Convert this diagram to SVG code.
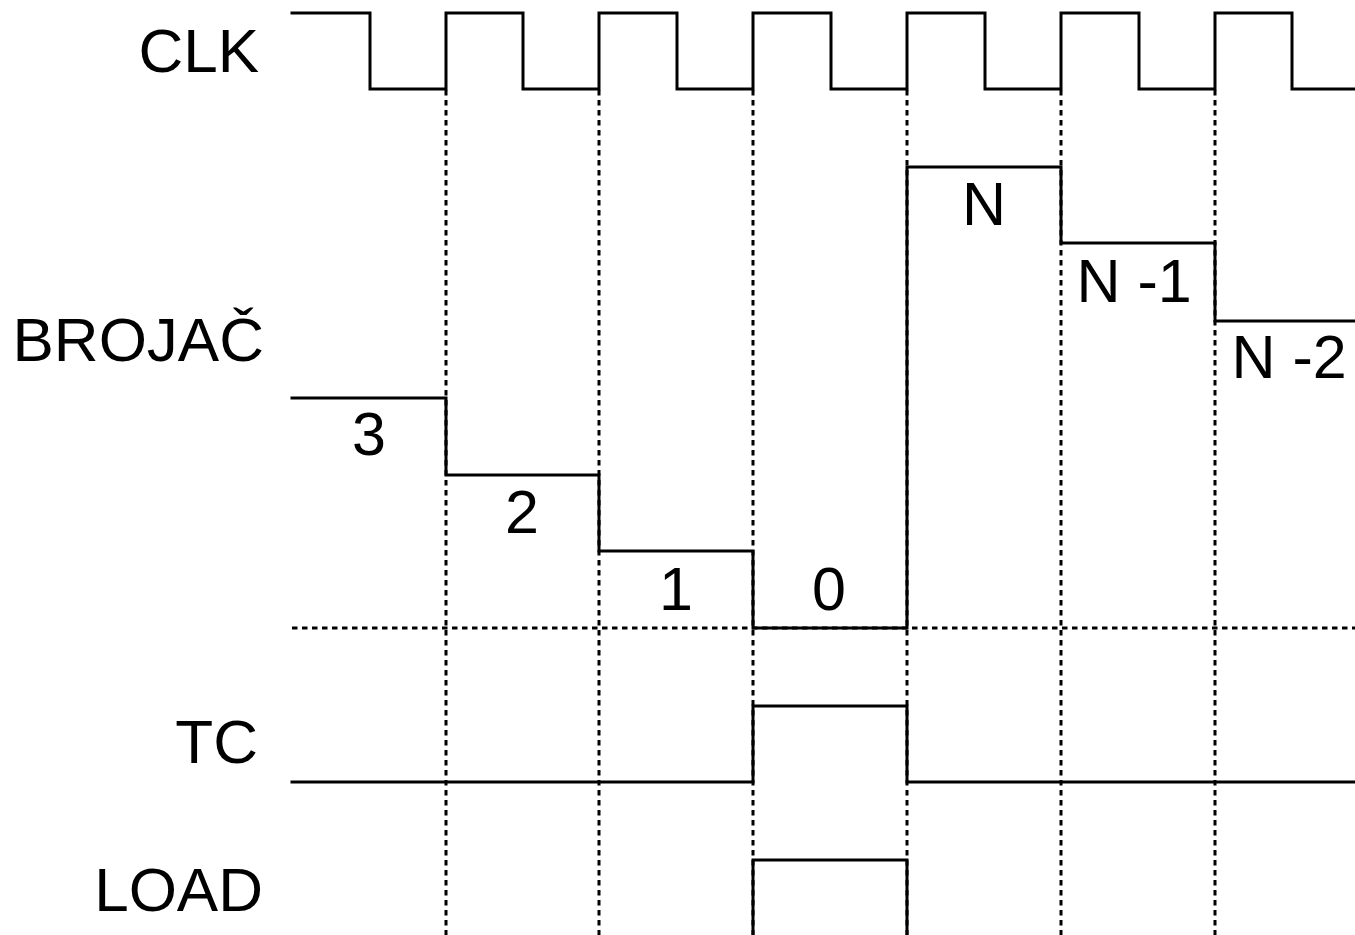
<svg xmlns="http://www.w3.org/2000/svg" width="1355" height="935" viewBox="0 0 1355 935">
<style>
.sig{fill:none;stroke:#000;stroke-width:3;stroke-linejoin:miter;stroke-linecap:square}
.grid{fill:none;stroke:#000;stroke-width:3;stroke-dasharray:5.5 4.5}
.lbl{font-family:"Liberation Sans",Arial,sans-serif;font-size:62px;fill:#000;text-anchor:end}
.val{font-family:"Liberation Sans",Arial,sans-serif;font-size:61px;fill:#000;text-anchor:middle}
</style>
<rect width="1355" height="935" fill="#fff"/>
<g id="connectors">
<g id="grid">
<line class="grid" x1="446" y1="90" x2="446" y2="935"/>
<line class="grid" x1="599" y1="90" x2="599" y2="935"/>
<line class="grid" x1="753" y1="90" x2="753" y2="935"/>
<line class="grid" x1="907" y1="90" x2="907" y2="935"/>
<line class="grid" x1="1061" y1="90" x2="1061" y2="935"/>
<line class="grid" x1="1215" y1="90" x2="1215" y2="935"/>
<line class="grid" x1="292" y1="628" x2="1355" y2="628"/>
</g>
</g>
<g id="clk">
<path class="sig" d="M292,13 H370 V89 H446 V13 H523 V89 H599 V13 H677 V89 H753 V13 H831 V89 H907 V13 H985 V89 H1061 V13 H1139 V89 H1215 V13 H1292 V89 H1355"/>
<text class="lbl" x="259" y="72">CLK</text>
</g>
<g id="brojac">
<path class="sig" d="M292,398 H446 V475 H599 V551 H753 V628 H907 V167 H1061 V243 H1215 V321 H1355"/>
<text class="lbl" x="264" y="361">BROJAČ</text>
<text class="val" x="369" y="455">3</text>
<text class="val" x="522" y="533">2</text>
<text class="val" x="676" y="610">1</text>
<text class="val" x="829" y="610">0</text>
<text class="val" x="984" y="225">N</text>
<text class="val" x="1134" y="302">N -1</text>
<text class="val" x="1289" y="378">N -2</text>
</g>
<g id="tc">
<path class="sig" d="M292,782 H753 V706 H907 V782 H1355"/>
<text class="lbl" x="258" y="763">TC</text>
</g>
<g id="load">
<path class="sig" d="M753,937 V860 H907 V937"/>
<text class="lbl" x="263" y="911">LOAD</text>
</g>
</svg>
